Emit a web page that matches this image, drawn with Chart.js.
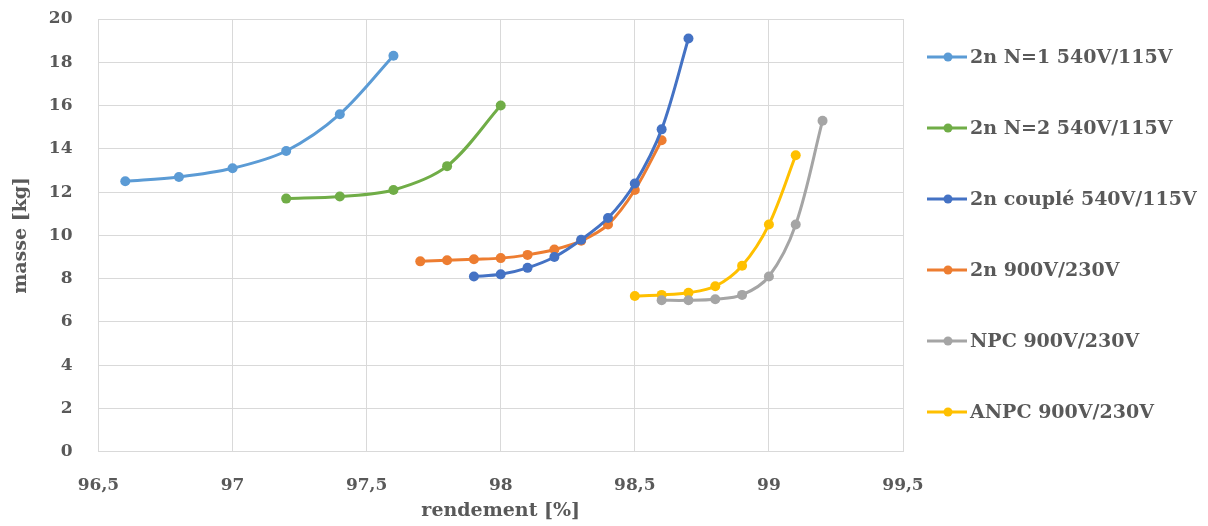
<!DOCTYPE html>
<html lang="fr">
<head>
<meta charset="UTF-8" />
<title>Masse en fonction du rendement</title>
<script src="https://cdn.jsdelivr.net/npm/chart.js"></script>
<style>
  body { margin: 0; background: #ffffff; }
  #chart-container { width: 1208px; height: 526px; }
</style>
</head>
<body>
<div id="chart-container"><canvas id="massChart"></canvas></div>
<script>
// series names
const seriesNames = [
  "2n N=1 540V/115V",
  "2n N=2 540V/115V",
  "2n couplé 540V/115V",
  "2n 900V/230V",
  "NPC 900V/230V",
  "ANPC 900V/230V"
];

// rendement [%] (x) and masse [kg] (y) for each series
const rendN1 = [96.6, 96.8, 97.0, 97.2, 97.4, 97.6];
const masseN1 = [12.5, 12.7, 13.1, 13.9, 15.6, 18.3];

const rendN2 = [97.2, 97.4, 97.6, 97.8, 98.0];
const masseN2 = [11.7, 11.8, 12.1, 13.2, 16.0];

const rendCouple = [97.9, 98.0, 98.1, 98.2, 98.3, 98.4, 98.5, 98.6, 98.7];
const masseCouple = [8.1, 8.2, 8.5, 9.0, 9.8, 10.8, 12.4, 14.9, 19.1];

const rend2n900 = [97.7, 97.8, 97.9, 98.0, 98.1, 98.2, 98.3, 98.4, 98.5, 98.6];
const masse2n900 = [8.8, 8.85, 8.9, 8.95, 9.1, 9.35, 9.75, 10.5, 12.1, 14.4];

const rendNPC = [98.6, 98.7, 98.8, 98.9, 99.0, 99.1, 99.2];
const masseNPC = [7.0, 7.0, 7.05, 7.25, 8.1, 10.5, 15.3];

const rendANPC = [98.5, 98.6, 98.7, 98.8, 98.9, 99.0, 99.1];
const masseANPC = [7.2, 7.25, 7.35, 7.65, 8.6, 10.5, 13.7];

const seriesColors = ["#5B9BD5", "#70AD47", "#4472C4", "#ED7D31", "#A5A5A5", "#FFC000"];

const allX = [rendN1, rendN2, rendCouple, rend2n900, rendNPC, rendANPC];
const allY = [masseN1, masseN2, masseCouple, masse2n900, masseNPC, masseANPC];

const textColor = "#595959";
const serif = "'DejaVu Serif', 'Liberation Serif', serif";

// build the datasets from the arrays above
const datasets = seriesNames.map((name, i) => ({
  label: name,
  data: allX[i].map((x, j) => ({ x: x, y: allY[i][j] })),
  borderColor: seriesColors[i],
  backgroundColor: seriesColors[i],
  borderWidth: 3,
  pointRadius: 5,
  pointBorderWidth: 0,
  pointBackgroundColor: seriesColors[i],
  tension: 0.33,
  fill: false
}));

// legend drawn at the right: short line with a dot, then bold text
const sideLegend = {
  id: "sideLegend",
  afterDraw(chart) {
    const ctx = chart.ctx;
    const area = chart.chartArea;
    ctx.save();
    ctx.font = "bold 19px " + serif;
    ctx.textBaseline = "middle";
    ctx.textAlign = "left";
    chart.data.datasets.forEach((ds, i) => {
      const x0 = area.right + 24;
      const y = area.top + 38 + i * 71;
      ctx.strokeStyle = ds.borderColor;
      ctx.lineWidth = 3;
      ctx.beginPath();
      ctx.moveTo(x0, y);
      ctx.lineTo(x0 + 40, y);
      ctx.stroke();
      ctx.fillStyle = ds.borderColor;
      ctx.beginPath();
      ctx.arc(x0 + 21, y, 4.5, 0, Math.PI * 2);
      ctx.fill();
      ctx.fillStyle = textColor;
      ctx.fillText(ds.label, x0 + 43, y + 1);
    });
    ctx.restore();
  }
};

new Chart(document.getElementById("massChart"), {
  type: "line",
  data: { datasets: datasets },
  options: {
    responsive: true,
    maintainAspectRatio: false,
    animation: false,
    layout: { padding: { top: 19, left: 10, right: 305, bottom: 4 } },
    plugins: {
      legend: { display: false },
      tooltip: { enabled: false }
    },
    scales: {
      x: {
        type: "linear",
        min: 96.5,
        max: 99.5,
        grid: { color: "#D9D9D9", drawTicks: true, tickLength: 24, tickColor: "rgba(0,0,0,0)" },
        border: { color: "#D9D9D9" },
        ticks: {
          stepSize: 0.5,
          padding: 0,
          color: textColor,
          font: { family: serif, size: 17, weight: "bold" },
          callback: (v) => String(v).replace(".", ",")
        },
        title: {
          display: true,
          text: "rendement [%]",
          color: textColor,
          font: { family: serif, size: 19, weight: "bold" },
          padding: { top: 3, bottom: 0 }
        }
      },
      y: {
        min: 0,
        max: 20,
        grid: { color: "#D9D9D9", drawTicks: true, tickLength: 26, tickColor: "rgba(0,0,0,0)" },
        border: { color: "#D9D9D9" },
        ticks: {
          stepSize: 2,
          padding: 0,
          color: textColor,
          font: { family: serif, size: 17, weight: "bold" }
        },
        title: {
          display: true,
          text: "masse [kg]",
          color: textColor,
          font: { family: serif, size: 19, weight: "bold" },
          padding: { top: 0, bottom: 16 }
        }
      }
    }
  },
  plugins: [sideLegend]
});
</script>
</body>
</html>
